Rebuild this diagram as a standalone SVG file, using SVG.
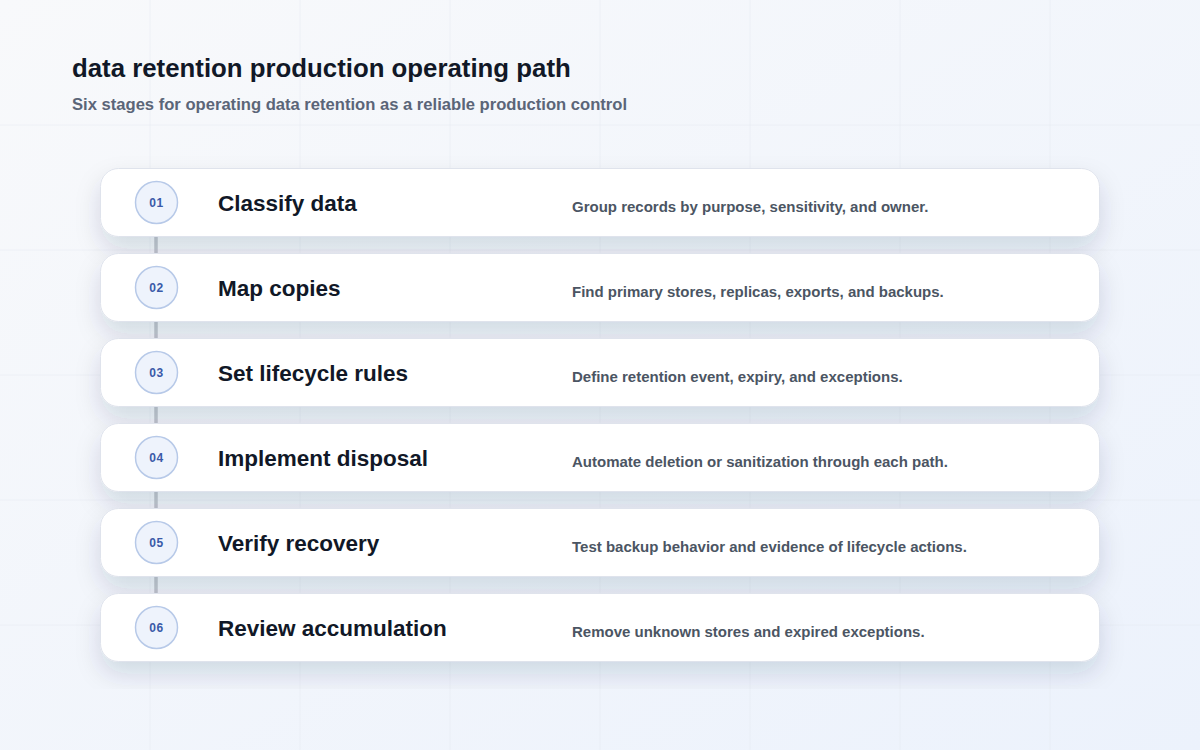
<svg xmlns="http://www.w3.org/2000/svg" width="1200" height="750" viewBox="0 0 1200 750">
  <defs>
    <linearGradient id="bg" x1="0" y1="0" x2="1" y2="1">
      <stop offset="0" stop-color="#f8f9fb"/>
      <stop offset="1" stop-color="#ecf2fc"/>
    </linearGradient>
    <filter id="shadow" x="-10%" y="-20%" width="120%" height="160%">
      <feDropShadow dx="0" dy="12" stdDeviation="12" flood-color="#1e2b4d" flood-opacity="0.14"/>
    </filter>
  </defs>
  <style>
    .grid line { stroke: #e3e7ef; stroke-width: 1; opacity: 0.45; }
    .card { fill: #ffffff; stroke: #dfe3ec; stroke-width: 1; filter: url(#shadow); }
    .badge { fill: #eef3fc; stroke: #b7c9e8; stroke-width: 1.5; }
    .num { font-family: "Liberation Sans", Arial, sans-serif; font-weight: 700; font-size: 12px; fill: #3a5aa8; text-anchor: middle; letter-spacing: 0.5px; }
    .title { font-family: "Liberation Sans", Arial, sans-serif; font-weight: 700; font-size: 22.5px; fill: #111827; }
    .desc { font-family: "Liberation Sans", Arial, sans-serif; font-weight: 700; font-size: 15px; fill: #4b5563; }
    .connector { stroke: #c3c7cf; stroke-width: 3.5; }
  </style>
  <rect width="1200" height="750" fill="url(#bg)"/>
  <g class="grid">
    <line x1="150" y1="0" x2="150" y2="750"/>
    <line x1="300" y1="0" x2="300" y2="750"/>
    <line x1="450" y1="0" x2="450" y2="750"/>
    <line x1="600" y1="0" x2="600" y2="750"/>
    <line x1="750" y1="0" x2="750" y2="750"/>
    <line x1="900" y1="0" x2="900" y2="750"/>
    <line x1="1050" y1="0" x2="1050" y2="750"/>
    <line x1="0" y1="125" x2="1200" y2="125"/>
    <line x1="0" y1="250" x2="1200" y2="250"/>
    <line x1="0" y1="375" x2="1200" y2="375"/>
    <line x1="0" y1="500" x2="1200" y2="500"/>
    <line x1="0" y1="625" x2="1200" y2="625"/>
  </g>
  <g id="header">
    <text x="72" y="77" font-family="Liberation Sans, Arial, sans-serif" font-weight="700" font-size="25.8" fill="#111827">data retention production operating path</text>
    <text x="72" y="110" font-family="Liberation Sans, Arial, sans-serif" font-weight="700" font-size="16.6" fill="#5b6578">Six stages for operating data retention as a reliable production control</text>
  </g>
  <g id="connectors">
    <line class="connector" x1="156" y1="236" x2="156" y2="254"/>
    <line class="connector" x1="156" y1="321" x2="156" y2="339"/>
    <line class="connector" x1="156" y1="406" x2="156" y2="424"/>
    <line class="connector" x1="156" y1="491" x2="156" y2="509"/>
    <line class="connector" x1="156" y1="576" x2="156" y2="594"/>
  </g>
  <g id="stage-01">
    <rect class="card" x="100.5" y="168.5" width="999" height="68" rx="18"/>
    <circle class="badge" cx="156.5" cy="202.5" r="21"/>
    <text class="num" x="156.5" y="207">01</text>
    <text class="title" x="218" y="211">Classify data</text>
    <text class="desc" x="572" y="212">Group records by purpose, sensitivity, and owner.</text>
  </g>
  <g id="stage-02">
    <rect class="card" x="100.5" y="253.5" width="999" height="68" rx="18"/>
    <circle class="badge" cx="156.5" cy="287.5" r="21"/>
    <text class="num" x="156.5" y="292">02</text>
    <text class="title" x="218" y="296">Map copies</text>
    <text class="desc" x="572" y="297">Find primary stores, replicas, exports, and backups.</text>
  </g>
  <g id="stage-03">
    <rect class="card" x="100.5" y="338.5" width="999" height="68" rx="18"/>
    <circle class="badge" cx="156.5" cy="372.5" r="21"/>
    <text class="num" x="156.5" y="377">03</text>
    <text class="title" x="218" y="381">Set lifecycle rules</text>
    <text class="desc" x="572" y="382">Define retention event, expiry, and exceptions.</text>
  </g>
  <g id="stage-04">
    <rect class="card" x="100.5" y="423.5" width="999" height="68" rx="18"/>
    <circle class="badge" cx="156.5" cy="457.5" r="21"/>
    <text class="num" x="156.5" y="462">04</text>
    <text class="title" x="218" y="466">Implement disposal</text>
    <text class="desc" x="572" y="467">Automate deletion or sanitization through each path.</text>
  </g>
  <g id="stage-05">
    <rect class="card" x="100.5" y="508.5" width="999" height="68" rx="18"/>
    <circle class="badge" cx="156.5" cy="542.5" r="21"/>
    <text class="num" x="156.5" y="547">05</text>
    <text class="title" x="218" y="551">Verify recovery</text>
    <text class="desc" x="572" y="552">Test backup behavior and evidence of lifecycle actions.</text>
  </g>
  <g id="stage-06">
    <rect class="card" x="100.5" y="593.5" width="999" height="68" rx="18"/>
    <circle class="badge" cx="156.5" cy="627.5" r="21"/>
    <text class="num" x="156.5" y="632">06</text>
    <text class="title" x="218" y="636">Review accumulation</text>
    <text class="desc" x="572" y="637">Remove unknown stores and expired exceptions.</text>
  </g>
</svg>
